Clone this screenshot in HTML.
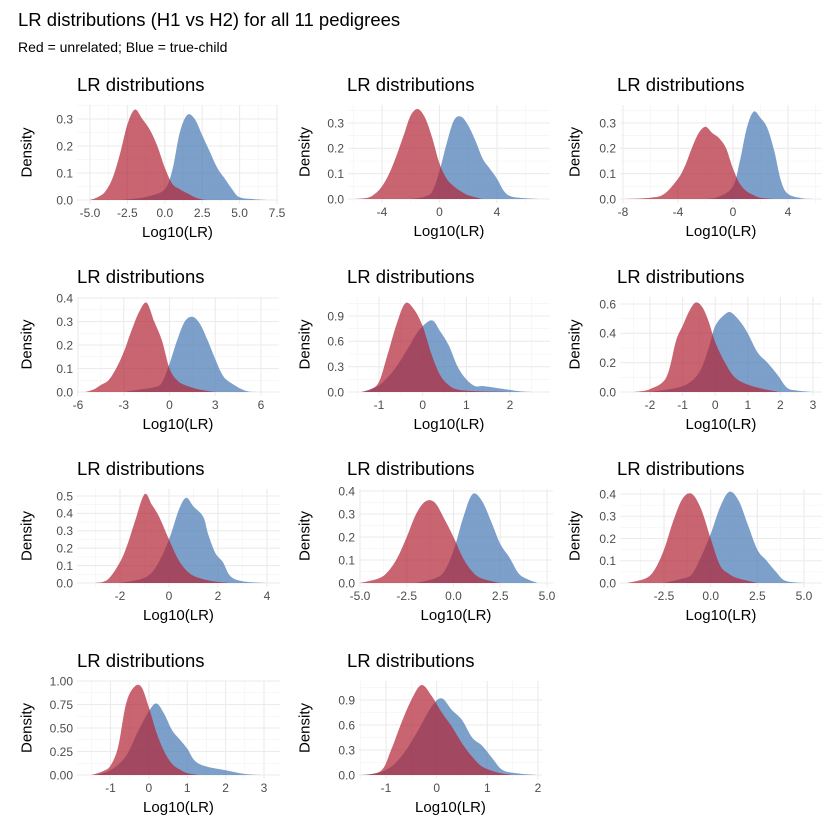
<!DOCTYPE html>
<html><head><meta charset="utf-8"><style>
body{margin:0;background:#fff;}
svg{display:block;font-family:"Liberation Sans",Arial,sans-serif;}
</style></head><body>
<svg id="chart" width="840" height="840" viewBox="0 0 840 840">
<text x="18" y="26" font-size="18.5" fill="#000">LR distributions (H1 vs H2) for all 11 pedigrees</text>
<text x="18" y="52" font-size="14" fill="#000">Red = unrelated; Blue = true-child</text>
</svg>
<script>
// ---- data: density curves (x values and density values) per pedigree ----
const p1RedX=[-5,-4.5,-4,-3.5,-3,-2.5,-2,-1.5,-1,-0.5,0,0.5,1,1.5,2,2.5,3];
const p1RedY=[0,0.01,0.03,0.08,0.17,0.28,0.335,0.30,0.26,0.2,0.12,0.06,0.04,0.025,0.01,0.002,0];
const p1BlueX=[-3,-2,-1,0,0.5,1,1.5,2,2.5,3,3.5,4,4.5,5,6,7];
const p1BlueY=[0,0.005,0.015,0.04,0.11,0.25,0.315,0.3,0.24,0.18,0.12,0.08,0.04,0.01,0.003,0];
const p2RedX=[-6,-5,-4.5,-4,-3.5,-3,-2.5,-2,-1.5,-1,-0.5,0,0.5,1,1.5,2,3];
const p2RedY=[0,0.005,0.02,0.05,0.1,0.17,0.25,0.33,0.355,0.32,0.24,0.14,0.08,0.05,0.03,0.015,0];
const p2BlueX=[-2,-1,-0.5,0,0.5,1,1.5,2,2.5,3,3.5,4,4.5,5,6,7];
const p2BlueY=[0,0.01,0.03,0.11,0.22,0.31,0.325,0.29,0.23,0.16,0.12,0.08,0.03,0.01,0.003,0];
const p3RedX=[-8,-6,-5,-4,-3.5,-3,-2.5,-2,-1.5,-1,-0.5,0,0.5,1,1.5,2,3];
const p3RedY=[0,0.005,0.02,0.08,0.13,0.2,0.26,0.285,0.26,0.24,0.2,0.12,0.06,0.03,0.015,0.005,0];
const p3BlueX=[-2,-1,0,0.5,1,1.5,2,2.5,3,3.5,4,5,6];
const p3BlueY=[0,0.01,0.05,0.15,0.28,0.345,0.32,0.28,0.19,0.07,0.02,0.003,0];
const p4RedX=[-5.5,-5,-4.5,-4,-3.5,-3,-2.5,-2,-1.5,-1,-0.5,0,0.5,1,2,3];
const p4RedY=[0,0.01,0.03,0.05,0.1,0.17,0.26,0.34,0.38,0.3,0.22,0.1,0.05,0.03,0.01,0];
const p4BlueX=[-3,-2,-1,-0.5,0,0.5,1,1.5,2,2.5,3,3.5,4,5,6];
const p4BlueY=[0,0.01,0.02,0.04,0.12,0.22,0.3,0.32,0.29,0.22,0.14,0.07,0.04,0.005,0];
const p5RedX=[-1.4,-1.2,-1,-0.8,-0.6,-0.4,-0.2,0,0.2,0.4,0.6,0.8,1.2,2];
const p5RedY=[0,0.03,0.12,0.45,0.8,1.05,0.98,0.78,0.45,0.2,0.08,0.03,0.01,0];
const p5BlueX=[-1.4,-1.1,-0.9,-0.6,-0.3,-0.1,0.2,0.4,0.6,0.8,1,1.2,1.4,1.8,2.2,2.5];
const p5BlueY=[0,0.05,0.12,0.3,0.55,0.72,0.85,0.72,0.55,0.3,0.15,0.07,0.07,0.04,0.01,0];
const p6RedX=[-2.5,-2,-1.5,-1.2,-1,-0.8,-0.6,-0.4,-0.2,0,0.3,0.6,1,1.5,2];
const p6RedY=[0,0.02,0.1,0.35,0.45,0.55,0.61,0.58,0.48,0.34,0.2,0.1,0.05,0.02,0];
const p6BlueX=[-2,-1,-0.5,-0.2,0,0.3,0.5,0.8,1,1.3,1.6,1.9,2.2,2.5,3];
const p6BlueY=[0,0.04,0.13,0.3,0.45,0.53,0.54,0.47,0.4,0.27,0.2,0.12,0.03,0.01,0];
const p7RedX=[-3,-2.5,-2,-1.7,-1.4,-1,-0.7,-0.4,0,0.4,0.8,1.2,1.8,2.5];
const p7RedY=[0,0.02,0.12,0.22,0.35,0.51,0.45,0.38,0.25,0.13,0.06,0.03,0.01,0];
const p7BlueX=[-2,-1,-0.5,0,0.4,0.7,1,1.4,1.6,1.9,2.2,2.5,3,4];
const p7BlueY=[0,0.03,0.1,0.25,0.42,0.49,0.44,0.38,0.28,0.17,0.12,0.04,0.01,0];
const p8RedX=[-5,-4,-3.5,-3,-2.5,-2,-1.5,-1,-0.5,0,0.5,1,1.5,2.5];
const p8RedY=[0,0.02,0.05,0.11,0.2,0.3,0.355,0.35,0.28,0.2,0.11,0.05,0.02,0];
const p8BlueX=[-2,-1,-0.5,0,0.5,1,1.5,2,2.5,3,3.5,4,4.5];
const p8BlueY=[0,0.02,0.05,0.14,0.28,0.385,0.36,0.27,0.17,0.11,0.04,0.015,0];
const p9RedX=[-4.5,-3.5,-3,-2.5,-2,-1.5,-1,-0.5,0,0.5,1,1.5,2.5];
const p9RedY=[0,0.02,0.06,0.15,0.28,0.38,0.4,0.33,0.2,0.08,0.04,0.02,0];
const p9BlueX=[-2.5,-1.5,-1,-0.5,0,0.5,1,1.5,2,2.5,3,3.5,4,5];
const p9BlueY=[0,0.02,0.04,0.12,0.22,0.34,0.41,0.37,0.26,0.15,0.1,0.05,0.01,0];
const p10RedX=[-1.5,-1.2,-1,-0.8,-0.6,-0.4,-0.2,0,0.2,0.4,0.6,0.8,1,1.3];
const p10RedY=[0,0.04,0.1,0.3,0.75,0.93,0.94,0.72,0.45,0.25,0.12,0.06,0.02,0];
const p10BlueX=[-1.4,-1,-0.6,-0.3,0,0.2,0.4,0.6,0.8,1,1.2,1.5,2,2.5,3];
const p10BlueY=[0,0.05,0.2,0.45,0.68,0.76,0.65,0.48,0.38,0.28,0.15,0.09,0.05,0.01,0];
const p11RedX=[-1.5,-1.1,-0.9,-0.7,-0.5,-0.3,-0.1,0.1,0.3,0.5,0.7,0.9,1.2,1.5];
const p11RedY=[0,0.05,0.3,0.62,0.9,1.08,0.95,0.75,0.58,0.38,0.22,0.1,0.03,0];
const p11BlueX=[-1.4,-1,-0.7,-0.4,-0.1,0.1,0.3,0.5,0.7,0.9,1.1,1.3,1.6,2];
const p11BlueY=[0,0.06,0.22,0.5,0.82,0.92,0.78,0.66,0.45,0.35,0.2,0.06,0.02,0];
// tick labels per panel
const p1XTicks=[-5,-2.5,0,2.5,5,7.5], p1YTicks=[0,0.1,0.2,0.3];
const p2XTicks=[-4,0,4], p2YTicks=[0,0.1,0.2,0.3];
const p3XTicks=[-8,-4,0,4], p3YTicks=[0,0.1,0.2,0.3];
const p4XTicks=[-6,-3,0,3,6], p4YTicks=[0,0.1,0.2,0.3,0.4];
const p5XTicks=[-1,0,1,2], p5YTicks=[0,0.3,0.6,0.9];
const p6XTicks=[-2,-1,0,1,2,3], p6YTicks=[0,0.2,0.4,0.6];
const p7XTicks=[-2,0,2,4], p7YTicks=[0,0.1,0.2,0.3,0.4,0.5];
const p8XTicks=[-5,-2.5,0,2.5,5], p8YTicks=[0,0.1,0.2,0.3,0.4];
const p9XTicks=[-2.5,0,2.5,5], p9YTicks=[0,0.1,0.2,0.3,0.4];
const p10XTicks=[-1,0,1,2,3], p10YTicks=[0,0.25,0.5,0.75,1];
const p11XTicks=[-1,0,1,2], p11YTicks=[0,0.3,0.6,0.9];

const NS='http://www.w3.org/2000/svg';
const svg=document.getElementById('chart');
function mk(tag,attrs,parent){const e=document.createElementNS(NS,tag);for(const k in attrs)e.setAttribute(k,attrs[k]);(parent||svg).appendChild(e);return e;}

const layout=[
 {L:77,R:278,T:105,xa:[-5,90],xb:[7.5,277],ya:[0,200],yb:[0.3,119],yd:1,xd:1,col:0,row:0},
 {L:348,R:550,T:105,xa:[-4,382],xb:[4,497],ya:[0,199],yb:[0.3,123],yd:1,xd:0,col:1,row:0},
 {L:620,R:822,T:105,xa:[-8,623],xb:[4,788],ya:[0,199],yb:[0.3,123],yd:1,xd:0,col:2,row:0},
 {L:77,R:279,T:297,xa:[-6,78],xb:[6,261],ya:[0,392],yb:[0.4,298],yd:1,xd:0,col:0,row:1},
 {L:348,R:550,T:297,xa:[-1,379],xb:[2,510],ya:[0,392],yb:[0.9,316],yd:1,xd:0,col:1,row:1},
 {L:620,R:822,T:297,xa:[-2,650],xb:[3,813],ya:[0,392],yb:[0.6,304],yd:1,xd:0,col:2,row:1},
 {L:77,R:280,T:489,xa:[-2,120],xb:[4,267],ya:[0,583],yb:[0.5,496],yd:1,xd:0,col:0,row:2},
 {L:359,R:553,T:489,xa:[-5,360],xb:[5,547],ya:[0,583],yb:[0.4,491],yd:1,xd:1,col:1,row:2},
 {L:620,R:822,T:489,xa:[-2.5,664],xb:[5,804],ya:[0,583],yb:[0.4,494],yd:1,xd:1,col:2,row:2},
 {L:77,R:280,T:681,xa:[-1,110.5],xb:[3,264],ya:[0,775],yb:[1,681],yd:2,xd:0,col:0,row:3},
 {L:359,R:542,T:681,xa:[-1,386],xb:[2,538],ya:[0,775],yb:[0.9,700],yd:1,xd:0,col:1,row:3}
];
const redX=[p1RedX,p2RedX,p3RedX,p4RedX,p5RedX,p6RedX,p7RedX,p8RedX,p9RedX,p10RedX,p11RedX];
const redY=[p1RedY,p2RedY,p3RedY,p4RedY,p5RedY,p6RedY,p7RedY,p8RedY,p9RedY,p10RedY,p11RedY];
const blueX=[p1BlueX,p2BlueX,p3BlueX,p4BlueX,p5BlueX,p6BlueX,p7BlueX,p8BlueX,p9BlueX,p10BlueX,p11BlueX];
const blueY=[p1BlueY,p2BlueY,p3BlueY,p4BlueY,p5BlueY,p6BlueY,p7BlueY,p8BlueY,p9BlueY,p10BlueY,p11BlueY];
const xTicks=[p1XTicks,p2XTicks,p3XTicks,p4XTicks,p5XTicks,p6XTicks,p7XTicks,p8XTicks,p9XTicks,p10XTicks,p11XTicks];
const yTicks=[p1YTicks,p2YTicks,p3YTicks,p4YTicks,p5YTicks,p6YTicks,p7YTicks,p8YTicks,p9YTicks,p10YTicks,p11YTicks];
const titleX=[77,347,617];

function smoothPath(pts){
  let d='M'+pts[0][0].toFixed(2)+','+pts[0][1].toFixed(2);
  for(let i=0;i<pts.length-1;i++){
    const p0=pts[Math.max(0,i-1)],p1=pts[i],p2=pts[i+1],p3=pts[Math.min(pts.length-1,i+2)];
    const c1=[p1[0]+(p2[0]-p0[0])/6,p1[1]+(p2[1]-p0[1])/6];
    const c2=[p2[0]-(p3[0]-p1[0])/6,p2[1]-(p3[1]-p1[1])/6];
    d+='C'+c1[0].toFixed(2)+','+c1[1].toFixed(2)+' '+c2[0].toFixed(2)+','+c2[1].toFixed(2)+' '+p2[0].toFixed(2)+','+p2[1].toFixed(2);
  }
  return d;
}

layout.forEach((g,i)=>{
  const grp=mk('g',{});
  
  
  const sx=v=>g.xa[1]+(v-g.xa[0])*(g.xb[1]-g.xa[1])/(g.xb[0]-g.xa[0]);
  const sy=v=>g.ya[1]+(v-g.ya[0])*(g.yb[1]-g.ya[1])/(g.yb[0]-g.ya[0]);
  const base=sy(0), B=base+4;
  const xt=xTicks[i], yt=yTicks[i];
  const dx=xt[1]-xt[0], dy=yt[1]-yt[0];
  for(let v=xt[0]-dx*1.5;v<=xt[xt.length-1]+dx*1.5;v+=dx){const px=sx(v);if(px>g.L&&px<g.R)mk('line',{x1:px,x2:px,y1:g.T,y2:B,stroke:'#f2f2f2','stroke-width':0.6},grp);}
  for(let v=yt[0]+dy/2;v<=yt[yt.length-1]+dy;v+=dy){const py=sy(v);if(py>g.T)mk('line',{x1:g.L,x2:g.R,y1:py,y2:py,stroke:'#f2f2f2','stroke-width':0.6},grp);}
  xt.forEach(v=>{const px=sx(v);
    const ln=mk('line',{x1:px,x2:px,y1:g.T,y2:B,stroke:'#ebebeb','stroke-width':1.1},grp);
    
    
    const t=mk('text',{x:px,y:B+13,'font-size':12,fill:'#4d4d4d','text-anchor':'middle'},grp);
    t.textContent=v.toFixed(g.xd);
    
    
  });
  yt.forEach(v=>{const py=sy(v);
    const ln=mk('line',{x1:g.L,x2:g.R,y1:py,y2:py,stroke:'#ebebeb','stroke-width':1.1},grp);
    
    
    const t=mk('text',{x:g.L-4,y:py+4.3,'font-size':12,fill:'#4d4d4d','text-anchor':'end'},grp);
    t.textContent=v.toFixed(g.yd);
    
    
  });
  [[blueX[i],blueY[i],'rgba(70,120,180,0.7)','density-true-child'],[redX[i],redY[i],'rgba(178,34,52,0.7)','density-unrelated']].forEach(([xs,ys,col,nm])=>{
    const pts=xs.map((x,k)=>[sx(x),sy(ys[k])]);
    let d=smoothPath(pts);
    d+='L'+pts[pts.length-1][0].toFixed(2)+','+base+'L'+pts[0][0].toFixed(2)+','+base+'Z';
    const p=mk('path',{d:d,fill:col},grp);
    
    
  });
  const tt=mk('text',{x:titleX[g.col],y:91+192*g.row,'font-size':18.5,fill:'#000'},grp);
  tt.textContent='LR distributions';
  
  
  const xl=mk('text',{x:(g.L+g.R)/2,y:B+33,'font-size':15,fill:'#000','text-anchor':'middle'},grp);
  xl.textContent='Log10(LR)';
  
  
  const ylx=[27,305,575][g.col], yly=(g.T+base)/2;
  const yl=mk('text',{x:ylx,y:yly,'font-size':15,fill:'#000','text-anchor':'middle','dominant-baseline':'central',transform:'rotate(-90 '+ylx+' '+yly+')'},grp);
  yl.textContent='Density';
  
  
});
</script>
</body></html>
